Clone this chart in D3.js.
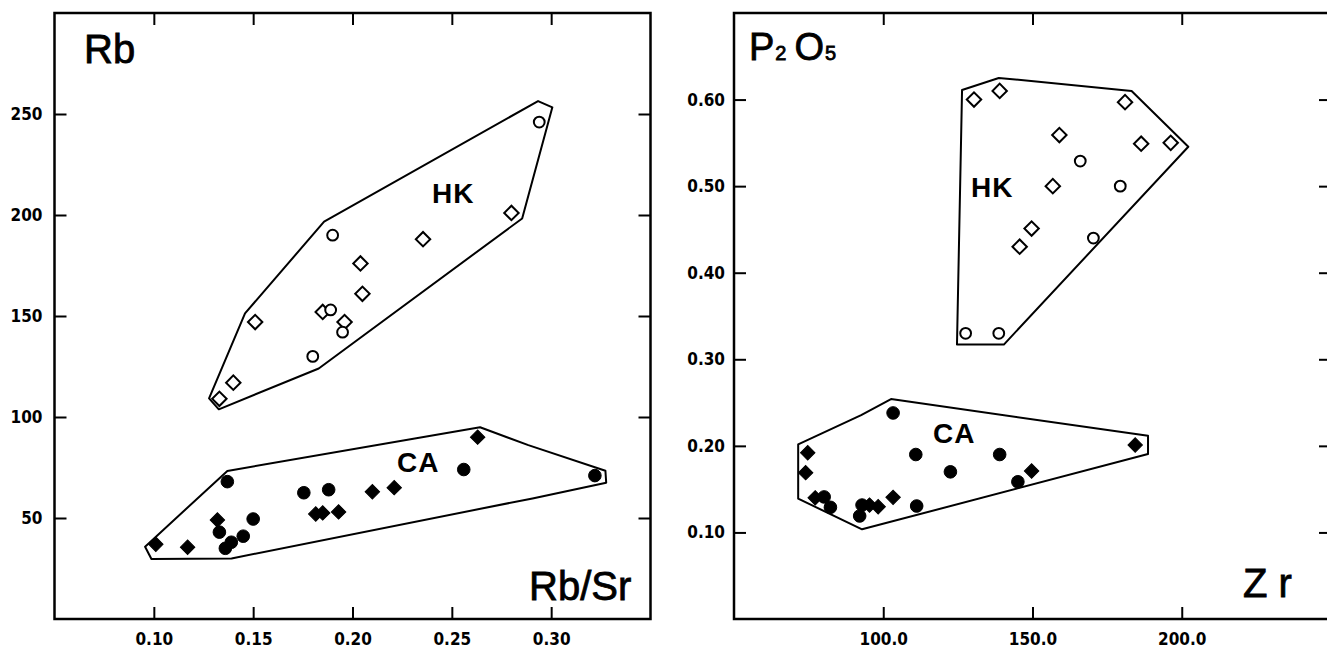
<!DOCTYPE html>
<html>
<head>
<meta charset="utf-8">
<script src="https://cdn.jsdelivr.net/npm/d3@7/dist/d3.min.js"></script>
<style>
  body { margin: 0; background: #fff; }
  svg { display: block; }
</style>
</head>
<body>
<svg id="chart" width="1327" height="650"></svg>
<script>
// --- left panel: Rb vs Rb/Sr ---
const leftXTicks = [0.10, 0.15, 0.20, 0.25, 0.30];
const leftYTicks = [50, 100, 150, 200, 250];
const leftHKDiamonds = [[0.280, 201], [0.2355, 188], [0.204, 176], [0.205, 161], [0.185, 152],
  [0.196, 147], [0.151, 147], [0.140, 117], [0.133, 109]];
const leftHKCircles = [[0.294, 246], [0.190, 190], [0.189, 153], [0.195, 142], [0.180, 130]];
const leftCADiamonds = [[0.101, 37], [0.117, 35.5], [0.132, 49], [0.1815, 52], [0.185, 52.5],
  [0.193, 53], [0.210, 63], [0.221, 65], [0.263, 90]];
const leftCACircles = [[0.137, 68], [0.133, 43], [0.136, 35], [0.139, 38], [0.145, 41],
  [0.150, 49.5], [0.1755, 62.5], [0.188, 64], [0.256, 74], [0.322, 71]];
const leftHKHull = [[0.2934, 256.4], [0.3006, 253.3], [0.2854, 198.3], [0.183, 124],
  [0.1327, 103.8], [0.1278, 109.2], [0.1459, 151.3], [0.1857, 196.7]];
const leftCAHull = [[0.2642, 94.9], [0.2885, 86.1], [0.3273, 73.4], [0.3277, 67.5],
  [0.2906, 59.7], [0.1391, 30], [0.0988, 29.7], [0.0956, 35.8], [0.137, 73.3]];

// --- right panel: P2O5 vs Zr ---
const rightXTicks = [100, 150, 200];
const rightYTicks = [0.10, 0.20, 0.30, 0.40, 0.50, 0.60];
const rightHKDiamonds = [[130.4, 0.600], [139, 0.610], [181, 0.597], [159, 0.559], [186.4, 0.549],
  [196.3, 0.550], [156.8, 0.500], [149.7, 0.451], [145.7, 0.430]];
const rightHKCircles = [[166, 0.529], [179.4, 0.500], [170.4, 0.440], [127.6, 0.330], [138.7, 0.330]];
const rightCADiamonds = [[74.7, 0.192], [74, 0.169], [77.2, 0.140], [95.4, 0.1316], [98.3, 0.1297],
  [103.3, 0.1405], [149.7, 0.171], [184.4, 0.201]];
const rightCACircles = [[103.3, 0.238], [110.9, 0.190], [139, 0.190], [122.5, 0.170], [145.1, 0.1585],
  [111.2, 0.1305], [80.2, 0.141], [82.3, 0.129], [92.1, 0.119], [92.9, 0.1316]];
const rightHKHull = [[126.4, 0.611], [138.7, 0.625], [183.2, 0.610], [202.2, 0.5455],
  [140.4, 0.317], [124.7, 0.317]];
const rightCAHull = [[102.6, 0.254], [92.6, 0.2356], [71.5, 0.2017], [71.5, 0.139],
  [92.9, 0.1036], [188.7, 0.1905], [188.7, 0.2117]];

const svg = d3.select("#chart");
svg.append("rect").attr("width", 1327).attr("height", 650).attr("fill", "#fff");

const tickFont = "'DejaVu Sans Condensed', 'DejaVu Sans', sans-serif";
const titleFont = "'Liberation Sans', Arial, sans-serif";
const TOP = 13, BOTTOM = 619, TICK = 12;

function panel(o) {
  const x = d3.scaleLinear().domain(o.xDomain).range(o.xRange);
  const y = d3.scaleLinear().domain(o.yDomain).range([BOTTOM, TOP]);
  const g = svg.append("g");

  const styleAxis = (sel) => {
    sel.select(".domain").remove();
    sel.selectAll(".tick line").attr("stroke", "#000").attr("stroke-width", 2);
    sel.selectAll(".tick text").attr("fill", "#000");
    sel.attr("font-family", tickFont).attr("font-size", 17).attr("font-weight", "bold");
  };

  g.append("g").attr("transform", `translate(0,${BOTTOM})`)
    .call(d3.axisBottom(x).tickValues(o.xTicks).tickFormat(d3.format(o.xFmt))
      .tickSize(-TICK).tickPadding(14))
    .call(styleAxis);
  g.append("g").attr("transform", `translate(0,${TOP})`)
    .call(d3.axisTop(x).tickValues(o.xTicks).tickFormat("").tickSize(-TICK))
    .call(styleAxis);
  g.append("g").attr("transform", `translate(${o.xRange[0]},0)`)
    .call(d3.axisLeft(y).tickValues(o.yTicks).tickFormat(d3.format(o.yFmt))
      .tickSize(-TICK).tickPadding(o.yPad))
    .call(styleAxis);
  g.append("g").attr("transform", `translate(${o.xRange[1]},0)`)
    .call(d3.axisRight(y).tickValues(o.yTicks).tickFormat("").tickSize(-TICK))
    .call(styleAxis);

  // frame
  g.append("rect")
    .attr("x", o.xRange[0]).attr("y", TOP)
    .attr("width", o.xRange[1] - o.xRange[0]).attr("height", BOTTOM - TOP)
    .attr("fill", "none").attr("stroke", "#000").attr("stroke-width", 2.5);

  // field outlines
  const line = d3.line().x((d) => x(d[0])).y((d) => y(d[1])).curve(d3.curveLinearClosed);
  [o.hkHull, o.caHull].forEach((h) => {
    g.append("path").attr("d", line(h))
      .attr("fill", "none").attr("stroke", "#000").attr("stroke-width", 2)
      .attr("stroke-linejoin", "round");
  });

  const diamond = d3.symbol(d3.symbolSquare, 104)();
  const drawDiamonds = (pts, filled) => {
    g.append("g").selectAll("path").data(pts).join("path")
      .attr("d", diamond)
      .attr("transform", (d) => `translate(${x(d[0])},${y(d[1])}) rotate(45)`)
      .attr("fill", filled ? "#000" : "#fff")
      .attr("stroke", "#000").attr("stroke-width", filled ? 1 : 2);
  };
  const drawCircles = (pts, filled) => {
    g.append("g").selectAll("circle").data(pts).join("circle")
      .attr("cx", (d) => x(d[0])).attr("cy", (d) => y(d[1]))
      .attr("r", filled ? 6.3 : 5.4)
      .attr("fill", filled ? "#000" : "#fff")
      .attr("stroke", "#000").attr("stroke-width", filled ? 1 : 2);
  };
  drawDiamonds(o.hkDiamonds, false);
  drawCircles(o.hkCircles, false);
  drawDiamonds(o.caDiamonds, true);
  drawCircles(o.caCircles, true);

  // field labels
  g.append("text").attr("x", o.hkLabel[0]).attr("y", o.hkLabel[1])
    .attr("font-family", titleFont).attr("font-weight", "bold").attr("font-size", 28)
    .attr("letter-spacing", 1).text("HK");
  g.append("text").attr("x", o.caLabel[0]).attr("y", o.caLabel[1])
    .attr("font-family", titleFont).attr("font-weight", "bold").attr("font-size", 28)
    .attr("letter-spacing", 1).text("CA");
  return g;
}

const titleText = (g, xPos, yPos, size) => g.append("text").attr("x", xPos).attr("y", yPos)
  .attr("font-family", titleFont).attr("font-size", size)
  .attr("stroke", "#000").attr("stroke-width", 0.8);

const left = panel({
  xDomain: [0.05, 0.35], xRange: [54.5, 650.5], yDomain: [0, 300],
  xTicks: leftXTicks, yTicks: leftYTicks, xFmt: ".2f", yFmt: "d", yPad: 12,
  hkHull: leftHKHull, caHull: leftCAHull,
  hkDiamonds: leftHKDiamonds, hkCircles: leftHKCircles,
  caDiamonds: leftCADiamonds, caCircles: leftCACircles,
  hkLabel: [432, 203], caLabel: [397, 472]
});
titleText(left, 84, 63, 40).text("Rb");
titleText(left, 529, 600, 40).text("Rb/Sr");

const right = panel({
  xDomain: [50, 250], xRange: [734, 1331], yDomain: [0, 0.70],
  xTicks: rightXTicks, yTicks: rightYTicks, xFmt: ".1f", yFmt: ".2f", yPad: 9,
  hkHull: rightHKHull, caHull: rightCAHull,
  hkDiamonds: rightHKDiamonds, hkCircles: rightHKCircles,
  caDiamonds: rightCADiamonds, caCircles: rightCACircles,
  hkLabel: [971, 197], caLabel: [933, 443]
});
const p2o5 = titleText(right, 749, 60, 38);
p2o5.append("tspan").text("P");
p2o5.append("tspan").attr("font-size", 20).attr("dx", 1).text("2");
p2o5.append("tspan").attr("dx", 8).text("O");
p2o5.append("tspan").attr("font-size", 20).attr("dx", 1).text("5");
titleText(right, 1243, 597, 40).text("Z r");
</script>
</body>
</html>
